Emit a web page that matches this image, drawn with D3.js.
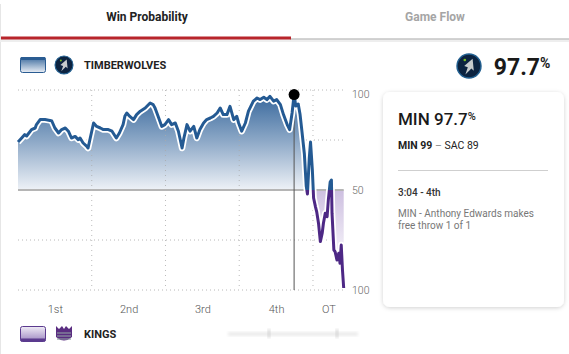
<!DOCTYPE html>
<html>
<head>
<meta charset="utf-8">
<script src="https://cdn.jsdelivr.net/npm/d3@7"></script>
<style>
  body { margin: 0; background: #fff; font-family: Roboto, "Noto Sans", sans-serif; }
  svg { display: block; }
</style>
</head>
<body>
<div id="chart"></div>
<script>
// game clock in minutes played (48 regulation + 5 OT)
const gameMinutes = [
  0, 0.6, 1.1, 1.4, 2.2, 2.8, 3.0, 3.6, 4.4, 5.2, 5.5, 6.0, 6.6, 7.1, 7.7, 8.2, 8.7, 9.3, 9.8, 10.1,
  10.6, 11.2, 11.4, 12.0, 12.3, 12.8, 13.4, 13.9, 14.7, 15.3, 16.0, 16.5, 17.1, 17.4, 17.7, 18.2, 18.8, 19.3, 19.9, 20.7,
  21.5, 22.0, 22.3, 22.9, 23.4, 23.9, 24.5, 25.0, 25.6, 26.1, 26.7, 27.0, 27.5, 28.0, 28.6, 29.1, 29.6, 30.2, 30.7, 31.3,
  31.8, 32.4, 32.9, 33.4, 34.0, 34.5, 35.1, 35.6, 35.9, 36.4, 37.0, 37.5, 38.3, 38.9, 39.4, 40.0, 40.5, 41.0, 41.6, 42.1,
  42.7, 43.2, 43.8, 44.2, 44.6, 44.93, 45.2, 45.6, 45.9, 46.2, 46.6, 46.9, 47.1, 47.4, 47.6, 47.9, 48.1, 48.4, 48.6, 48.9,
  49.2, 49.5, 49.7, 50.0, 50.3, 50.5, 50.8, 51.0, 51.1, 51.4, 51.6, 51.9, 52.2, 52.4, 52.6, 52.8, 53.0
];
// Timberwolves win probability (%)
const minWinPct = [
  74, 76, 77.7, 77, 80.2, 81, 82.7, 85.2, 85.2, 84.8, 84.5, 81, 78.5, 80.2, 81, 79.4, 76, 76.8, 75.2, 76,
  73.5, 71.8, 71, 79.4, 83.5, 81.8, 81, 80.2, 80.2, 79.4, 76, 78.5, 82.7, 87, 88.5, 86.8, 85.2, 87.7, 89.4, 91,
  93.5, 92.7, 91, 86, 81.8, 82.7, 85.2, 82.7, 83.5, 79.4, 71, 76, 82.7, 79.4, 81.8, 76, 80.2, 83.5, 85.2, 86,
  86.8, 88.5, 91, 87.7, 87.7, 91.8, 85.2, 86.8, 83.5, 79.4, 83.5, 89.4, 94.4, 96, 95.2, 96.4, 95.2, 96.8, 94.4, 95.2,
  92.7, 87.7, 82.7, 80.2, 88.5, 97.7, 92, 93, 87.7, 79.4, 68, 52, 48, 66, 74, 60, 46, 41.7, 39.2, 33.4,
  24.2, 28.4, 33.4, 38.4, 36.7, 45, 54, 55, 38.4, 20, 19.2, 15, 18.4, 13.4, 22.5, 10, 1
];
const periodLabels = ["1st", "2nd", "3rd", "4th", "OT"];
const periodStarts = [0, 12, 24, 36, 48];
const periodEnds = [12, 24, 36, 48, 53];
const yTickValues = [100, 50, 0];
const yTickLabels = ["100", "50", "100"];
const gridValues = [100, 75, 25, 0];
const markerMinute = 44.93;
const markerPct = 97.7;

const W = 569, H = 354;
const svg = d3.select("#chart").append("svg").attr("width", W).attr("height", H);
const defs = svg.append("defs");

const x = d3.scaleLinear().domain([0, 53]).range([18, 343.7]);
const y = d3.scaleLinear().domain([0, 100]).range([290, 90]);

// gradients
function vGrad(id, stops, y1, y2) {
  const g = defs.append("linearGradient").attr("id", id)
    .attr("gradientUnits", y1 == null ? "objectBoundingBox" : "userSpaceOnUse")
    .attr("x1", 0).attr("x2", 0)
    .attr("y1", y1 == null ? 0 : y1).attr("y2", y2 == null ? 1 : y2);
  stops.forEach(s => g.append("stop").attr("offset", s[0]).attr("stop-color", s[1]));
}
vGrad("blueFill", [[0, "#2f6198"], [0.5, "#8ba7c6"], [1, "#eef2f7"]], y(100), y(50));
vGrad("purpleFill", [[0, "#cdbfe0"], [1, "#f8f6fb"]], y(50), y(15));
vGrad("twSwatch", [[0, "#3f6d9f"], [1, "#e9eef5"]]);
vGrad("kingsSwatch", [[0, "#f0ecf6"], [1, "#9c86c0"]]);

defs.append("filter").attr("id", "shadow").attr("x", "-10%").attr("y", "-10%")
  .attr("width", "120%").attr("height", "120%")
  .append("feDropShadow").attr("dx", 0).attr("dy", 1).attr("stdDeviation", 2)
  .attr("flood-color", "#000").attr("flood-opacity", 0.18);
defs.append("filter").attr("id", "blur").append("feGaussianBlur").attr("stdDeviation", 1.5);

defs.append("clipPath").attr("id", "clipAbove").append("rect")
  .attr("x", 0).attr("y", 0).attr("width", W).attr("height", y(50));
defs.append("clipPath").attr("id", "clipBelow").append("rect")
  .attr("x", 0).attr("y", y(50)).attr("width", W).attr("height", H - y(50));

// outer card edge + header tabs
svg.append("line").attr("x1", 0.5).attr("x2", 0.5).attr("y1", 4).attr("y2", H)
  .attr("stroke", "#e6e6e6");
svg.append("rect").attr("x", 0).attr("y", 39).attr("width", W).attr("height", 3)
  .attr("fill", "#eee");
svg.append("line").attr("x1", 290).attr("x2", W).attr("y1", 39).attr("y2", 39)
  .attr("stroke", "#c4c4c4").attr("stroke-width", 1.5);
svg.append("rect").attr("x", 1).attr("y", 36.5).attr("width", 290).attr("height", 3)
  .attr("fill", "#b8252b");
svg.append("text").attr("x", 147).attr("y", 21).attr("text-anchor", "middle")
  .attr("font-size", 12).attr("font-weight", 700).attr("fill", "#222").text("Win Probability");
svg.append("text").attr("x", 435).attr("y", 21).attr("text-anchor", "middle")
  .attr("font-size", 12).attr("font-weight", 700).attr("fill", "#a5a5a5").text("Game Flow");

// legend rows
function swatch(yTop, fillId, edge, edgeTop) {
  svg.append("rect").attr("x", 20.5).attr("y", yTop + 0.5).attr("width", 25).attr("height", 15)
    .attr("rx", 2).attr("fill", `url(#${fillId})`).attr("stroke", edge);
  svg.append("rect").attr("x", 20.5).attr("y", edgeTop ? yTop : yTop + 12.5)
    .attr("width", 25).attr("height", 3).attr("rx", 1).attr("fill", edge);
}
swatch(57, "twSwatch", "#2a5c92", true);
swatch(326, "kingsSwatch", "#5b3a8e", false);

function wolvesLogo(cx, cy, r) {
  const g = svg.append("g").attr("transform", `translate(${cx},${cy})`);
  g.append("circle").attr("r", r).attr("fill", "#0c2340").attr("stroke", "#236192").attr("stroke-width", r * 0.12);
  const s = r / 10;
  g.append("path").attr("d", `M${3*s},${-6*s} L${-4*s},${0} L${-1*s},${1*s} L${-3*s},${7*s} L${2*s},${2*s} L${4*s},${4*s} Z`)
    .attr("fill", "#c7cbcc");
  g.append("circle").attr("cx", -3.5 * s).attr("cy", -5 * s).attr("r", 1.1 * s).attr("fill", "#78be20");
}
wolvesLogo(64, 65, 9);
wolvesLogo(469, 66, 12);

const kg = svg.append("g").attr("transform", "translate(64,334)");
kg.append("path").attr("d", "M-8,-8 L-5,-5 L-2,-8 L0,-5 L2,-8 L5,-5 L8,-8 L8,3 Q0,10 -8,3 Z").attr("fill", "#5a2d81");
[-1, 2, 5].forEach(d => kg.append("line").attr("x1", -7).attr("x2", 7).attr("y1", d).attr("y2", d)
  .attr("stroke", "#8c96a0").attr("stroke-width", 1.2));

svg.append("text").attr("x", 84).attr("y", 69).attr("font-size", 11).attr("font-weight", 700)
  .attr("fill", "#222").text("TIMBERWOLVES");
svg.append("text").attr("x", 84).attr("y", 338).attr("font-size", 11).attr("font-weight", 700)
  .attr("fill", "#222").text("KINGS");

const big = svg.append("text").attr("x", 540).attr("y", 75).attr("text-anchor", "end")
  .attr("font-size", 23).attr("font-weight", 700).attr("fill", "#1a1a1a");
big.text(markerPct.toFixed(1));
svg.append("text").attr("x", 540).attr("y", 68).attr("font-size", 14).attr("font-weight", 700)
  .attr("fill", "#1a1a1a").text("%");

// blurred watermark strip
svg.append("rect").attr("x", 228).attr("y", 332).attr("width", 130).attr("height", 4)
  .attr("fill", "#ececec").attr("filter", "url(#blur)");
[268, 336].forEach(px => svg.append("rect").attr("x", px).attr("y", 329).attr("width", 2).attr("height", 9)
  .attr("fill", "#cfcfcf").attr("filter", "url(#blur)"));

// plot
const plot = svg.append("g");
const pts = gameMinutes.map((m, i) => ({ m, p: minWinPct[i] }));

// horizontal dotted grid (under fill)
plot.selectAll("line.hgrid").data(gridValues).join("line").attr("class", "hgrid")
  .attr("x1", x(0)).attr("x2", x(53)).attr("y1", d => y(d)).attr("y2", d => y(d))
  .attr("stroke", "#b8b8b8").attr("stroke-width", 1).attr("stroke-dasharray", "1,3");

const area = d3.area().x(d => x(d.m)).y0(y(50)).y1(d => y(d.p));
plot.append("path").datum(pts).attr("d", area).attr("fill", "url(#blueFill)").attr("clip-path", "url(#clipAbove)");
plot.append("path").datum(pts).attr("d", area).attr("fill", "url(#purpleFill)").attr("clip-path", "url(#clipBelow)");

// vertical dotted period dividers
plot.selectAll("line.vgrid").data(periodEnds.slice(0, 4)).join("line").attr("class", "vgrid")
  .attr("x1", d => x(d)).attr("x2", d => x(d)).attr("y1", y(100)).attr("y2", y(0))
  .attr("stroke", "#aaa").attr("stroke-opacity", 0.8).attr("stroke-dasharray", "1,4");

// 50 line
plot.append("line").attr("x1", x(0)).attr("x2", x(53)).attr("y1", y(50)).attr("y2", y(50))
  .attr("stroke", "#b5b5b5").attr("stroke-width", 2);

// marker line
plot.append("line").attr("x1", x(markerMinute)).attr("x2", x(markerMinute))
  .attr("y1", y(markerPct)).attr("y2", y(0)).attr("stroke", "#555").attr("stroke-width", 1);

const line = d3.line().x(d => x(d.m)).y(d => y(d.p));
plot.append("path").datum(pts).attr("d", line).attr("fill", "none")
  .attr("stroke", "#fff").attr("stroke-width", 6.5).attr("stroke-linejoin", "round");
plot.append("path").datum(pts).attr("d", line).attr("fill", "none").attr("clip-path", "url(#clipAbove)")
  .attr("stroke", "#245a93").attr("stroke-width", 3).attr("stroke-linejoin", "round");
plot.append("path").datum(pts).attr("d", line).attr("fill", "none").attr("clip-path", "url(#clipBelow)")
  .attr("stroke", "#4d2885").attr("stroke-width", 3).attr("stroke-linejoin", "round");

plot.append("circle").attr("cx", x(markerMinute)).attr("cy", y(markerPct)).attr("r", 5.5).attr("fill", "#000");

// x axis: period labels at mid-period
const xAxis = d3.axisBottom(x)
  .tickValues(periodStarts.map((s, i) => (s + periodEnds[i]) / 2))
  .tickFormat((d, i) => periodLabels[i]).tickSize(0).tickPadding(0);
svg.append("g").attr("transform", "translate(0,305)").call(xAxis)
  .call(g => g.select(".domain").remove())
  .call(g => g.selectAll("text").attr("font-size", 11).attr("font-weight", 300)
    .attr("fill", "#555").attr("font-family", "Roboto, sans-serif"));

// y axis at right
const yAxis = d3.axisRight(y).tickValues(yTickValues)
  .tickFormat((d, i) => yTickLabels[i]).tickSize(0).tickPadding(0);
svg.append("g").attr("transform", "translate(352,0)").call(yAxis)
  .call(g => g.select(".domain").remove())
  .call(g => g.selectAll("text").attr("font-size", 10.5).attr("font-weight", 300)
    .attr("fill", "#666").attr("font-family", "Roboto, sans-serif"))
  .call(g => g.selectAll(".tick").filter(d => d === 100).select("text").attr("dy", "0.75em"));

// tooltip card
const card = svg.append("g");
card.append("rect").attr("x", 383).attr("y", 92).attr("width", 181).attr("height", 215)
  .attr("rx", 7).attr("fill", "#fff").attr("filter", "url(#shadow)");
const t1 = card.append("text").attr("x", 398).attr("y", 125).attr("font-size", 17)
  .attr("font-weight", 500).attr("fill", "#1a1a1a");
t1.append("tspan").text(`MIN ${markerPct.toFixed(1)}`);
t1.append("tspan").attr("font-size", 11).attr("dy", -5).text("%");
const t2 = card.append("text").attr("x", 398).attr("y", 149).attr("font-size", 10.5).attr("fill", "#222");
t2.append("tspan").attr("font-weight", 700).text("MIN 99");
t2.append("tspan").attr("fill", "#888").text("  –  ");
t2.append("tspan").text("SAC 89");
card.append("line").attr("x1", 398).attr("x2", 548).attr("y1", 170.5).attr("y2", 170.5)
  .attr("stroke", "#cfcfcf");
card.append("text").attr("x", 398).attr("y", 196).attr("font-size", 10).attr("font-weight", 500)
  .attr("fill", "#333").text("3:04 - 4th");
card.append("text").attr("x", 398).attr("y", 217).attr("font-size", 10).attr("fill", "#777")
  .text("MIN - Anthony Edwards makes");
card.append("text").attr("x", 398).attr("y", 229).attr("font-size", 10).attr("fill", "#777")
  .text("free throw 1 of 1");
</script>
</body>
</html>
